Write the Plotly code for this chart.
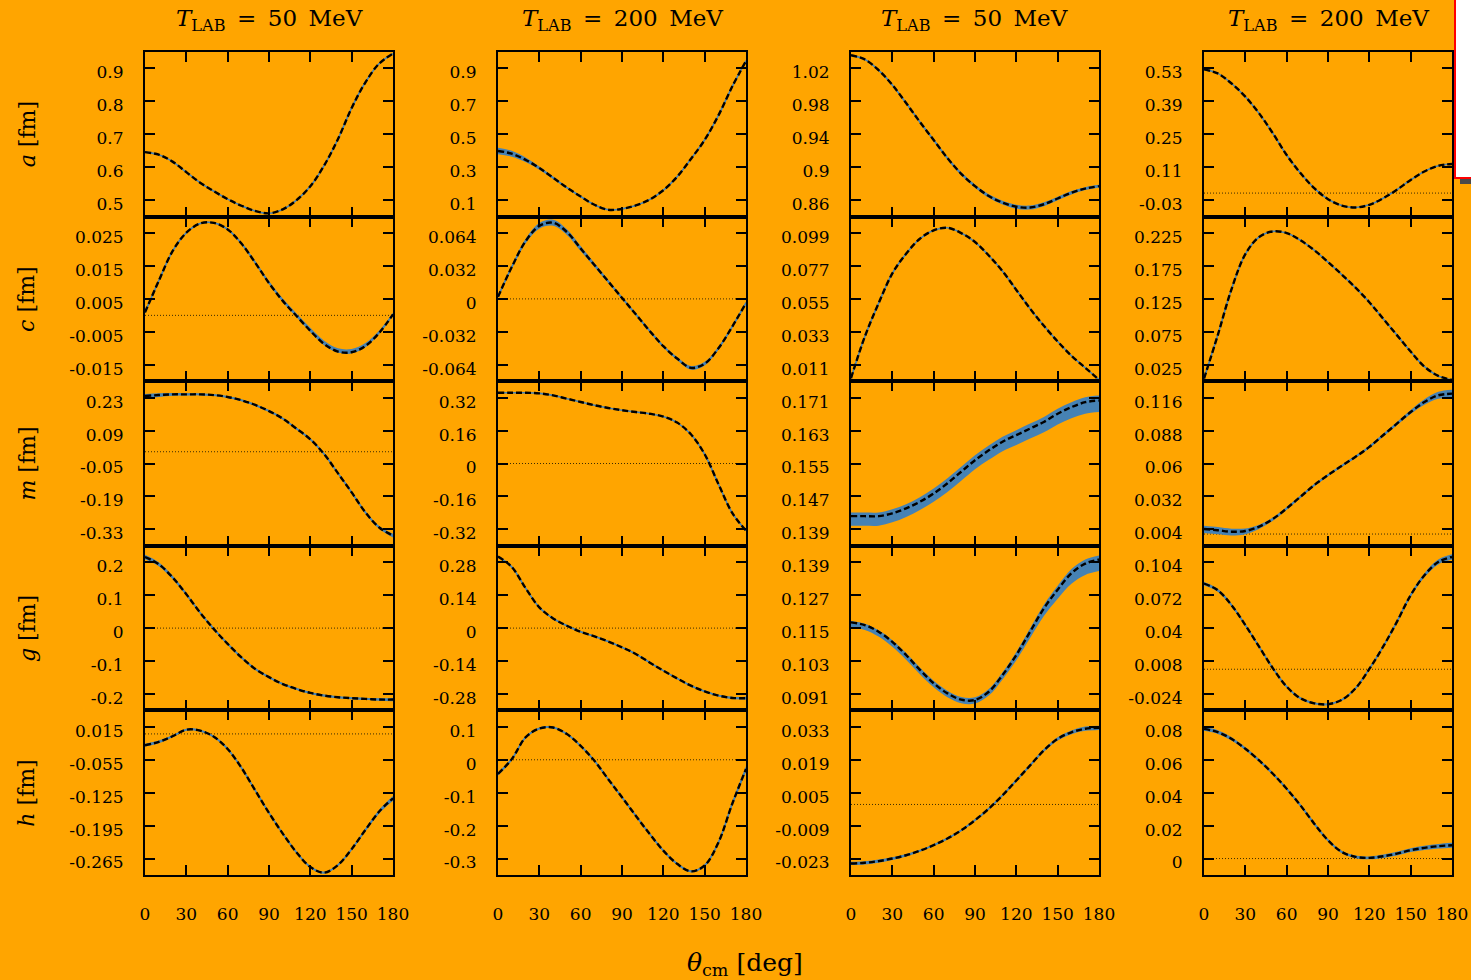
import plotly.graph_objects as go

# Scattering angle grid (degrees, centre-of-mass frame)
theta = [0, 10, 20, 30, 40, 50, 60, 70, 80, 90, 100, 110, 120, 130, 140, 150, 160, 170, 180]
x_ticks = [0, 30, 60, 90, 120, 150, 180]

energies = ["50", "200", "50", "200"]
row_symbols = ["a", "c", "m", "g", "h"]

# ---- amplitude curves, one list per panel ----
a_50 = [0.646, 0.638, 0.617, 0.585, 0.553, 0.527, 0.503, 0.483, 0.467, 0.460, 0.472, 0.500, 0.542, 0.605, 0.685, 0.780, 0.858, 0.915, 0.945]
a_200 = [0.399, 0.382, 0.345, 0.295, 0.236, 0.176, 0.122, 0.072, 0.042, 0.047, 0.068, 0.103, 0.160, 0.242, 0.350, 0.466, 0.615, 0.790, 0.946]
a_50b = [1.036, 1.031, 1.018, 1.000, 0.978, 0.955, 0.933, 0.911, 0.892, 0.877, 0.865, 0.857, 0.852, 0.851, 0.855, 0.862, 0.869, 0.874, 0.877]
a_200b = [0.526, 0.509, 0.466, 0.410, 0.339, 0.254, 0.162, 0.085, 0.021, -0.026, -0.053, -0.061, -0.050, -0.022, 0.014, 0.056, 0.092, 0.116, 0.124]

c_50 = [0.0009, 0.0105, 0.0195, 0.0251, 0.0279, 0.0281, 0.0261, 0.0218, 0.0160, 0.0098, 0.0044, -0.0002, -0.0047, -0.0087, -0.0110, -0.0112, -0.0093, -0.0053, 0.0003]
c_200 = [0.002, 0.031, 0.056, 0.071, 0.074, 0.065, 0.049, 0.033, 0.017, 0.001, -0.015, -0.031, -0.046, -0.058, -0.067, -0.063, -0.048, -0.027, -0.004]
c_50b = [0.002, 0.0297, 0.052, 0.072, 0.0852, 0.0952, 0.1008, 0.1025, 0.099, 0.093, 0.084, 0.0735, 0.061, 0.0485, 0.037, 0.0265, 0.017, 0.009, 0.001]
c_200b = [0.004, 0.070, 0.140, 0.193, 0.219, 0.2275, 0.225, 0.214, 0.199, 0.181, 0.162, 0.142, 0.120, 0.095, 0.070, 0.045, 0.022, 0.008, 0.002]

m_50 = [0.237, 0.241, 0.244, 0.244, 0.244, 0.241, 0.233, 0.219, 0.199, 0.173, 0.141, 0.098, 0.053, -0.010, -0.091, -0.173, -0.258, -0.322, -0.357]
m_200 = [0.344, 0.344, 0.344, 0.341, 0.331, 0.315, 0.299, 0.283, 0.270, 0.259, 0.250, 0.242, 0.228, 0.199, 0.142, 0.045, -0.100, -0.240, -0.326]
m_50b = [0.1422, 0.1422, 0.1422, 0.1429, 0.1441, 0.1457, 0.1477, 0.1502, 0.1530, 0.1558, 0.1582, 0.1603, 0.1619, 0.1635, 0.1651, 0.1671, 0.1687, 0.1699, 0.1703]
m_200b = [0.0043, 0.0032, 0.0020, 0.0026, 0.0063, 0.0128, 0.0218, 0.0317, 0.0416, 0.0501, 0.0580, 0.0657, 0.0741, 0.0840, 0.0939, 0.1038, 0.1123, 0.1180, 0.1194]

g_50 = [0.216, 0.194, 0.154, 0.103, 0.047, -0.003, -0.048, -0.089, -0.124, -0.149, -0.170, -0.185, -0.197, -0.205, -0.210, -0.213, -0.215, -0.217, -0.217]
g_200 = [0.304, 0.260, 0.170, 0.088, 0.041, 0.010, -0.016, -0.035, -0.057, -0.082, -0.110, -0.146, -0.181, -0.214, -0.245, -0.269, -0.287, -0.297, -0.298]
g_50b = [0.1171, 0.1161, 0.1137, 0.1100, 0.1052, 0.0998, 0.0949, 0.0912, 0.0889, 0.0888, 0.0918, 0.0979, 0.1052, 0.1137, 0.1222, 0.1290, 0.1350, 0.1385, 0.1400]
g_200b = [0.0833, 0.0768, 0.0623, 0.0429, 0.0219, 0.0009, -0.0169, -0.0282, -0.0331, -0.0340, -0.0298, -0.0185, 0.0003, 0.0219, 0.0461, 0.0720, 0.0914, 0.1043, 0.1092]

h_50 = [-0.024, -0.017, -0.005, 0.009, 0.007, -0.006, -0.032, -0.072, -0.120, -0.168, -0.212, -0.252, -0.283, -0.295, -0.279, -0.245, -0.204, -0.165, -0.137]
h_200 = [-0.043, 0.002, 0.068, 0.095, 0.098, 0.078, 0.042, -0.003, -0.059, -0.114, -0.170, -0.225, -0.276, -0.316, -0.339, -0.321, -0.251, -0.134, -0.028]
h_50b = [-0.0251, -0.0248, -0.0241, -0.0230, -0.0216, -0.0197, -0.0173, -0.0145, -0.0110, -0.0067, -0.0018, 0.0039, 0.0102, 0.0166, 0.0230, 0.0279, 0.0307, 0.0322, 0.0326]
h_200b = [0.0788, 0.0768, 0.0727, 0.0667, 0.0596, 0.0515, 0.0424, 0.0323, 0.0212, 0.0111, 0.0040, 0.0010, 0.0004, 0.0014, 0.0030, 0.0051, 0.0065, 0.0075, 0.0081]

# ---- uncertainty band half-widths (above / below the curve) ----
err_a_200 = [0.020, 0.018, 0.014, 0.010, 0.007, 0.005, 0.004, 0.003, 0.003, 0.003, 0.003, 0.003, 0.003, 0.003, 0.003, 0.003, 0.004, 0.005, 0.006]
err_a_50b = [0.0008, 0.0008, 0.0008, 0.0009, 0.0010, 0.0012, 0.0014, 0.0016, 0.0018, 0.0020, 0.0022, 0.0024, 0.0025, 0.0025, 0.0024, 0.0022, 0.0020, 0.0018, 0.0016]
err_c_50_up = [0.0002, 0.0002, 0.0002, 0.0002, 0.0002, 0.0002, 0.0003, 0.0004, 0.0005, 0.0006, 0.0007, 0.0008, 0.0009, 0.0010, 0.0010, 0.0010, 0.0009, 0.0007, 0.0005]
err_c_50_dn = [0.0002, 0.0002, 0.0002, 0.0002, 0.0002, 0.0002, 0.0002, 0.0002, 0.0002, 0.0003, 0.0003, 0.0003, 0.0003, 0.0003, 0.0003, 0.0003, 0.0003, 0.0003, 0.0002]
err_c_200 = [0.0010, 0.0015, 0.0022, 0.0028, 0.0030, 0.0028, 0.0024, 0.0020, 0.0015, 0.0012, 0.0012, 0.0012, 0.0013, 0.0015, 0.0018, 0.0018, 0.0015, 0.0012, 0.0010]
err_m_50 = [0.009, 0.008, 0.006, 0.005, 0.004, 0.004, 0.004, 0.004, 0.004, 0.004, 0.004, 0.004, 0.004, 0.004, 0.004, 0.004, 0.005, 0.006, 0.008]
err_m_50b_up = [0.0009, 0.0009, 0.0009, 0.0010, 0.0010, 0.0011, 0.0012, 0.0012, 0.0012, 0.0012, 0.0012, 0.0012, 0.0012, 0.0012, 0.0012, 0.0012, 0.0012, 0.0012, 0.0012]
err_m_50b_dn = [0.0023, 0.0023, 0.0023, 0.0022, 0.0021, 0.0020, 0.0020, 0.0021, 0.0022, 0.0022, 0.0023, 0.0023, 0.0024, 0.0024, 0.0025, 0.0026, 0.0027, 0.0028, 0.0028]
err_m_200b_up = [0.0028, 0.0028, 0.0026, 0.0022, 0.0017, 0.0013, 0.0011, 0.0010, 0.0010, 0.0010, 0.0010, 0.0010, 0.0011, 0.0012, 0.0014, 0.0018, 0.0024, 0.0030, 0.0034]
err_m_200b_dn = [0.0034, 0.0034, 0.0032, 0.0027, 0.0020, 0.0015, 0.0012, 0.0010, 0.0010, 0.0010, 0.0010, 0.0010, 0.0011, 0.0012, 0.0014, 0.0018, 0.0024, 0.0030, 0.0036]
err_g_50 = [0.007, 0.006, 0.005, 0.004, 0.003, 0.003, 0.003, 0.003, 0.003, 0.003, 0.003, 0.003, 0.003, 0.003, 0.003, 0.003, 0.003, 0.004, 0.005]
err_g_200 = [0.004, 0.004, 0.003, 0.003, 0.003, 0.003, 0.003, 0.003, 0.003, 0.003, 0.003, 0.003, 0.003, 0.003, 0.003, 0.004, 0.004, 0.005, 0.006]
err_g_50b_up = [0.0005, 0.0005, 0.0005, 0.0006, 0.0007, 0.0008, 0.0009, 0.0010, 0.0010, 0.0010, 0.0010, 0.0010, 0.0011, 0.0012, 0.0013, 0.0014, 0.0015, 0.0015, 0.0015]
err_g_50b_dn = [0.0018, 0.0018, 0.0018, 0.0018, 0.0017, 0.0016, 0.0015, 0.0014, 0.0013, 0.0013, 0.0014, 0.0016, 0.0019, 0.0023, 0.0028, 0.0033, 0.0038, 0.0041, 0.0042]
err_g_200b = [0.0016, 0.0015, 0.0013, 0.0011, 0.0010, 0.0009, 0.0009, 0.0009, 0.0009, 0.0009, 0.0009, 0.0010, 0.0011, 0.0012, 0.0014, 0.0017, 0.0020, 0.0024, 0.0026]
err_h_50 = [0.003, 0.003, 0.002, 0.002, 0.002, 0.002, 0.002, 0.002, 0.002, 0.002, 0.002, 0.002, 0.002, 0.002, 0.002, 0.002, 0.003, 0.004, 0.005]
err_h_200 = [0.005, 0.004, 0.003, 0.003, 0.003, 0.003, 0.003, 0.003, 0.003, 0.003, 0.003, 0.003, 0.003, 0.003, 0.003, 0.003, 0.004, 0.006, 0.008]
err_h_50b = [0.0007, 0.0007, 0.0007, 0.0006, 0.0005, 0.0004, 0.0004, 0.0004, 0.0004, 0.0004, 0.0004, 0.0004, 0.0005, 0.0005, 0.0006, 0.0007, 0.0008, 0.0009, 0.0009]
err_h_200b = [0.0012, 0.0011, 0.0010, 0.0009, 0.0008, 0.0008, 0.0008, 0.0008, 0.0008, 0.0008, 0.0008, 0.0008, 0.0009, 0.0010, 0.0011, 0.0012, 0.0013, 0.0014, 0.0015]

# ---- y tick labels (bottom to top) ----
yticks_a = [["0.5", "0.6", "0.7", "0.8", "0.9"], ["0.1", "0.3", "0.5", "0.7", "0.9"],
            ["0.86", "0.9", "0.94", "0.98", "1.02"], ["-0.03", "0.11", "0.25", "0.39", "0.53"]]
yticks_c = [["-0.015", "-0.005", "0.005", "0.015", "0.025"], ["-0.064", "-0.032", "0", "0.032", "0.064"],
            ["0.011", "0.033", "0.055", "0.077", "0.099"], ["0.025", "0.075", "0.125", "0.175", "0.225"]]
yticks_m = [["-0.33", "-0.19", "-0.05", "0.09", "0.23"], ["-0.32", "-0.16", "0", "0.16", "0.32"],
            ["0.139", "0.147", "0.155", "0.163", "0.171"], ["0.004", "0.032", "0.06", "0.088", "0.116"]]
yticks_g = [["-0.2", "-0.1", "0", "0.1", "0.2"], ["-0.28", "-0.14", "0", "0.14", "0.28"],
            ["0.091", "0.103", "0.115", "0.127", "0.139"], ["-0.024", "0.008", "0.04", "0.072", "0.104"]]
yticks_h = [["-0.265", "-0.195", "-0.125", "-0.055", "0.015"], ["-0.3", "-0.2", "-0.1", "0", "0.1"],
            ["-0.023", "-0.009", "0.005", "0.019", "0.033"], ["0", "0.02", "0.04", "0.06", "0.08"]]

curves = [[a_50, a_200, a_50b, a_200b],
          [c_50, c_200, c_50b, c_200b],
          [m_50, m_200, m_50b, m_200b],
          [g_50, g_200, g_50b, g_200b],
          [h_50, h_200, h_50b, h_200b]]
bands = [[None, (err_a_200, err_a_200), (err_a_50b, err_a_50b), None],
         [(err_c_50_up, err_c_50_dn), (err_c_200, err_c_200), None, None],
         [(err_m_50, err_m_50), None, (err_m_50b_up, err_m_50b_dn), (err_m_200b_up, err_m_200b_dn)],
         [(err_g_50, err_g_50), (err_g_200, err_g_200), (err_g_50b_up, err_g_50b_dn), (err_g_200b, err_g_200b)],
         [(err_h_50, err_h_50), (err_h_200, err_h_200), (err_h_50b, err_h_50b), (err_h_200b, err_h_200b)]]
yticks = [yticks_a, yticks_c, yticks_m, yticks_g, yticks_h]

# ---- page geometry (pixels) ----
W, H = 1471, 980
COL_X = [(145, 393), (498, 746), (851, 1099), (1204, 1452)]
ROW_TOP, ROW_H = 52.0, 164.6

BG = "#FFA500"
BAND = "#4682B4"
FONT = "DejaVu Serif"


def px_x(p):
    return p / W


def px_y(p):
    return 1 - p / H


fig = go.Figure()
layout_axes = {}
k = 0
for r in range(5):
    y0 = ROW_TOP + ROW_H * r
    y1 = y0 + ROW_H
    for c in range(4):
        k += 1
        xa = "x" if k == 1 else f"x{k}"
        ya = "y" if k == 1 else f"y{k}"
        labels = yticks[r][c]
        vals = [float(s) for s in labels]
        step = (vals[-1] - vals[0]) / 4
        yr = [vals[0] - step / 2, vals[-1] + step / 2]

        # dotted zero reference line
        fig.add_trace(go.Scatter(x=[0, 180], y=[0, 0], xaxis=xa, yaxis=ya, mode="lines",
                                 line=dict(color="rgba(40,30,0,0.9)", width=1, dash="1px,2px"),
                                 hoverinfo="skip", showlegend=False))
        curve = curves[r][c]
        band = bands[r][c]
        if band is not None:
            up, dn = band
            lo = [v - d for v, d in zip(curve, dn)]
            hi = [v + u for v, u in zip(curve, up)]
            fig.add_trace(go.Scatter(x=theta, y=lo, xaxis=xa, yaxis=ya, mode="lines",
                                     line=dict(width=0, shape="spline", color=BAND),
                                     hoverinfo="skip", showlegend=False))
            fig.add_trace(go.Scatter(x=theta, y=hi, xaxis=xa, yaxis=ya, mode="lines",
                                     line=dict(width=0, shape="spline", color=BAND),
                                     fill="tonexty", fillcolor=BAND,
                                     hoverinfo="skip", showlegend=False))
        fig.add_trace(go.Scatter(x=theta, y=curve, xaxis=xa, yaxis=ya, mode="lines",
                                 line=dict(color=BAND, width=1.6, shape="spline"),
                                 hoverinfo="skip", showlegend=False))
        fig.add_trace(go.Scatter(x=theta, y=curve, xaxis=xa, yaxis=ya, mode="lines",
                                 line=dict(color="black", width=2.4, dash="6px,3px", shape="spline"),
                                 showlegend=False))

        layout_axes["xaxis" if k == 1 else f"xaxis{k}"] = dict(
            domain=[px_x(COL_X[c][0]), px_x(COL_X[c][1])], anchor=ya,
            range=[0, 180], tickvals=x_ticks,
            ticktext=[str(t) for t in x_ticks], showticklabels=(r == 4),
            ticks="inside", ticklen=10, tickwidth=1.5, tickcolor="black",
            showline=True, linecolor="black", linewidth=2, mirror="allticks",
            showgrid=False, zeroline=False, ticklabelstandoff=23, automargin=False,
            tickfont=dict(family=FONT, size=17, color="black"))
        layout_axes["yaxis" if k == 1 else f"yaxis{k}"] = dict(
            domain=[px_y(y1), px_y(y0)], anchor=xa,
            range=yr, tickvals=vals, ticktext=labels,
            ticks="inside", ticklen=10, tickwidth=1.5, tickcolor="black",
            showline=True, linecolor="black", linewidth=2, mirror="allticks",
            showgrid=False, zeroline=False, ticklabelstandoff=16, ticklabelshift=4,
            automargin=False,
            tickfont=dict(family=FONT, size=17, color="black"))

annotations = []
for c, e in enumerate(energies):
    annotations.append(dict(
        x=px_x((COL_X[c][0] + COL_X[c][1]) / 2), y=px_y(20), xref="paper", yref="paper",
        text=f"<i>T</i><sub>LAB</sub>\u2002=\u2002{e}\u2002MeV",
        showarrow=False, xanchor="center", yanchor="middle",
        font=dict(family=FONT, size=23, color="black")))
for r, s in enumerate(row_symbols):
    annotations.append(dict(
        x=px_x(27), y=px_y(ROW_TOP + ROW_H * (r + 0.5)), xref="paper", yref="paper",
        text=f"<i>{s}</i> [fm]", textangle=-90, showarrow=False,
        xanchor="center", yanchor="middle",
        font=dict(family=FONT, size=22, color="black")))
annotations.append(dict(
    x=px_x(745), y=px_y(964), xref="paper", yref="paper",
    text="<i>θ</i><sub>cm</sub> [deg]", showarrow=False, xanchor="center", yanchor="middle",
    font=dict(family=FONT, size=25, color="black")))

shapes = [
    dict(type="rect", xref="paper", yref="paper", x0=px_x(1460), x1=px_x(1490),
         y0=px_y(184), y1=px_y(5), fillcolor="#4a4a4a", line=dict(width=0), layer="above"),
    dict(type="rect", xref="paper", yref="paper", x0=px_x(1455), x1=px_x(1490),
         y0=px_y(178), y1=px_y(-5), fillcolor="white", line=dict(color="red", width=2), layer="above"),
]

fig.update_layout(
    width=W, height=H, autosize=False,
    margin=dict(l=0, r=0, t=0, b=0),
    paper_bgcolor=BG, plot_bgcolor=BG,
    showlegend=False, annotations=annotations, shapes=shapes,
    font=dict(family=FONT, color="black"),
    **layout_axes)

fig.write_html("out.html")
